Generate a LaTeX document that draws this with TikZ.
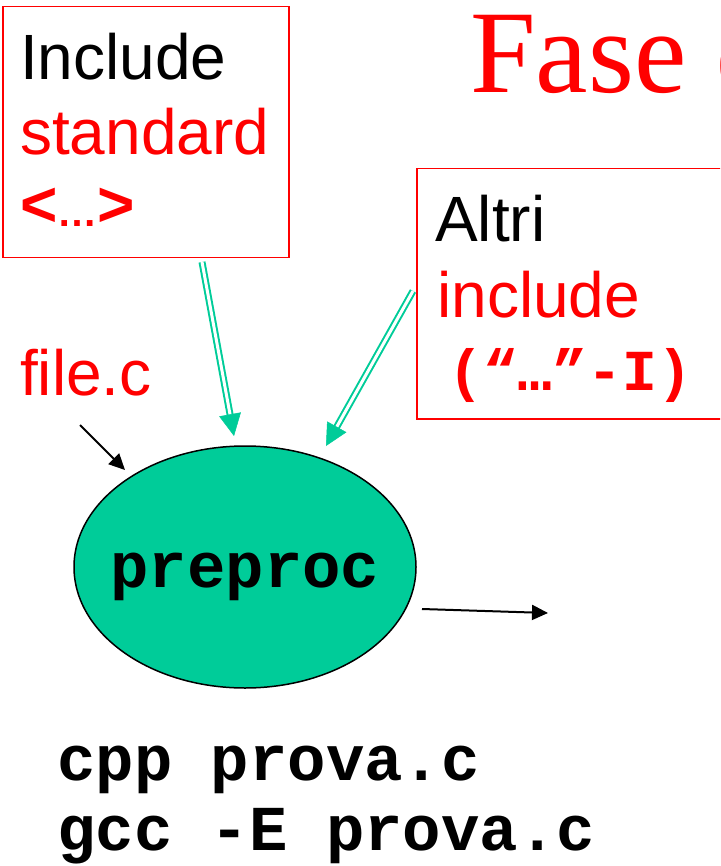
\documentclass[tikz,border=0pt]{standalone}
\usepackage{fontspec}
\setmainfont{Liberation Sans}
\setmonofont{Liberation Mono}
\newfontfamily\titleserif{Liberation Serif}
\usetikzlibrary{shapes.geometric,arrows.meta,calc}
\definecolor{procgreen}{HTML}{00CC99}
\definecolor{hotred}{HTML}{FF0000}
\tikzset{
  lbl/.style={anchor=base west, inner sep=0pt, font=\fontsize{64}{64}\selectfont},
  codetxt/.style={anchor=base west, inner sep=0pt, font=\ttfamily\bfseries\fontsize{64}{64}\selectfont},
  hdrbox/.style={draw=hotred, line width=1.5pt, anchor=north west, inner sep=0pt},
  procnode/.style={ellipse, draw=black, line width=1.5pt, fill=procgreen,
    minimum width=342pt, minimum height=242pt, inner xsep=-14pt, inner ysep=0pt,
    font=\ttfamily\bfseries\fontsize{64}{64}\selectfont, text height=45pt, text depth=5pt},
  dblshaft/.style={draw=procgreen, line width=2pt, double=white, double distance=3pt},
  dbltip/.style={draw=procgreen, line width=0.5pt, -{Triangle[length=22pt,width=22pt,fill=procgreen]}},
  flowarrow/.style={draw=black, line width=2pt, -{Triangle[length=16pt,width=15pt]}}
}
\begin{document}
\begin{tikzpicture}[x=1pt,y=-1pt]
\useasboundingbox (0,0) rectangle (720,866);
\clip (0,0) rectangle (720,866);

% title
\node[anchor=base west, inner sep=0pt, text=hotred,
      font=\titleserif\fontsize{118}{118}\selectfont] (title) at (470,93) {Fase d};

% standard include box
\node[hdrbox, minimum width=286pt, minimum height=251pt] (stdbox) at (2,6) {};
\node[lbl] (stdl1) at (20,80) {Include};
\node[lbl, text=hotred] (stdl2) at (20,155) {standard};
\node[lbl, text=hotred, font=\bfseries\fontsize{64}{64}\selectfont] (stdl3) at (20,227)
  {<{\fontsize{40}{40}\selectfont …}>};

% other include box
\node[hdrbox, minimum width=330pt, minimum height=250pt] (altbox) at (416,168) {};
\node[lbl] (altl1) at (435,242) {Altri};
\node[lbl, text=hotred] (altl2) at (437,317) {include};
\node[codetxt, text=hotred, font=\ttfamily\bfseries\fontsize{58}{58}\selectfont] (altl3) at (448,390) {(“…”-I)};

% source file
\node[lbl, text=hotred] (srcfile) at (20,395) {file.c};

% preprocessor
\node[procnode] (pp) at (245,567) {preproc};

% commands
\node[codetxt] (cmd1) at (57,780) {cpp prova.c};
\node[codetxt] (cmd2) at (57,850) {gcc -E prova.c};

% connector end points
\coordinate (filein) at (80,425);
\coordinate (ppin) at (125,470);
\coordinate (stdout) at (202,262);
\coordinate (stdtip) at (234,436);
\coordinate (altout) at (413,291);
\coordinate (alttip) at (326,446);
\coordinate (ppout) at (422,609);
\coordinate (nextin) at (548,613);

% double arrows from the include boxes
\draw[dblshaft] (stdout) -- ($(stdtip)!20pt!(stdout)$);
\draw[dbltip] ($(stdtip)!22pt!(stdout)$) -- (stdtip);
\draw[dblshaft] (altout) -- ($(alttip)!20pt!(altout)$);
\draw[dbltip] ($(alttip)!22pt!(altout)$) -- (alttip);

% input and output arrows
\draw[flowarrow] (filein) -- (ppin);
\draw[flowarrow] (ppout) -- (nextin);
\end{tikzpicture}
\end{document}
